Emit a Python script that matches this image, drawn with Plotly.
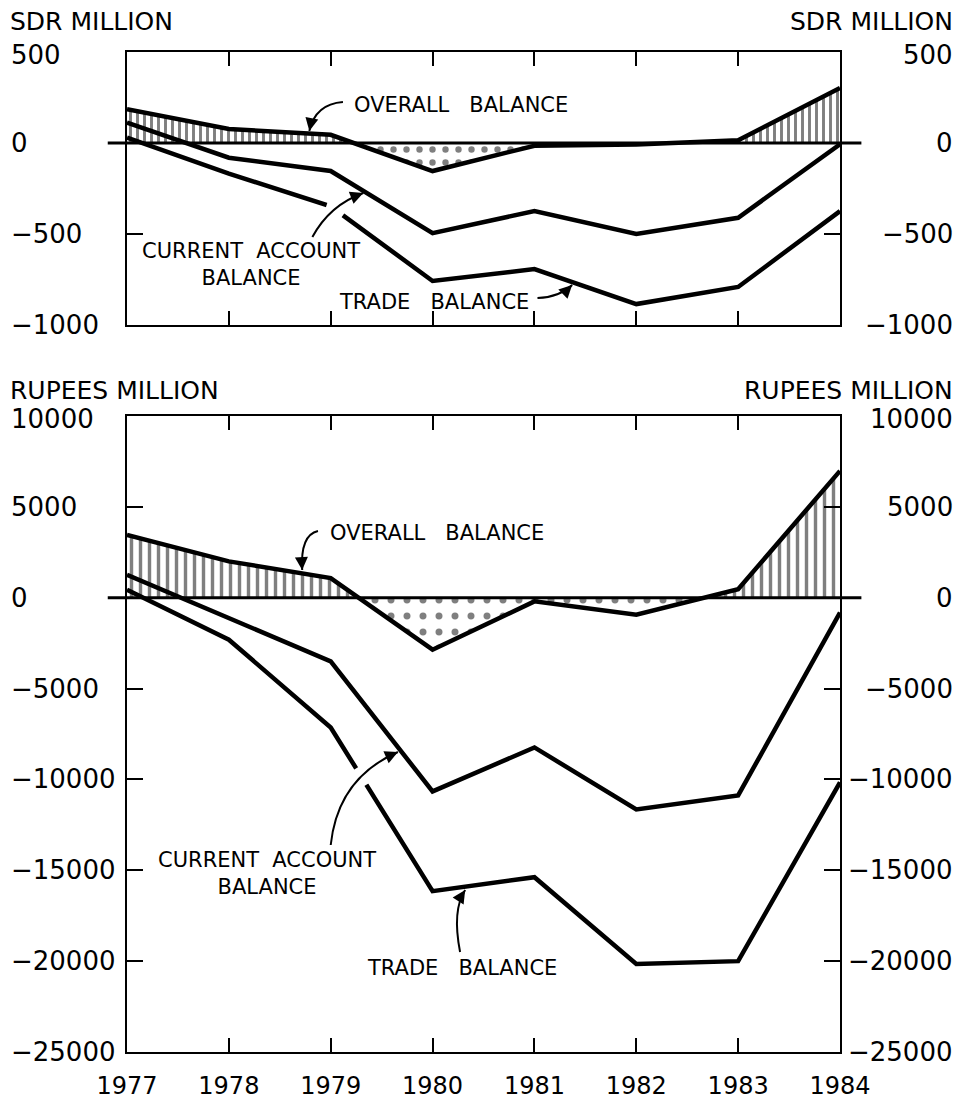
import plotly.graph_objects as go

# ---------------- data ----------------
years = [1977, 1978, 1979, 1980, 1981, 1982, 1983, 1984]
year_labels = ["1977", "1978", "1979", "1980", "1981", "1982", "1983", "1984"]

# SDR million (top panel)
sdr_overall = [185, 77, 45, -154, -15, -8, 15, 302]
sdr_current = [112, -81, -154, -495, -374, -500, -411, -7]
sdr_trade = [29, -168, -348, -758, -693, -885, -791, -374]

# Rupees million (bottom panel)
rs_overall = [3460, 2000, 1080, -2860, -200, -930, 470, 6980]
rs_current = [1260, -1100, -3500, -10660, -8240, -11650, -10880, -820]
rs_trade = [440, -2310, -7140, -16150, -15380, -20160, -20000, -10160]

sdr_ticks = [500, 0, -500, -1000]
sdr_tick_labels = ["500", "0", "\u2212500", "\u22121000"]
rs_ticks = [10000, 5000, 0, -5000, -10000, -15000, -20000, -25000]
rs_tick_labels = ["10000", "5000", "0", "\u22125000", "\u221210000",
                  "\u221215000", "\u221220000", "\u221225000"]

top_unit = "SDR MILLION"
bottom_unit = "RUPEES MILLION"
label_overall = "OVERALL\u00a0\u00a0 BALANCE"
label_current = "CURRENT\u00a0 ACCOUNT<br>BALANCE"
label_trade = "TRADE\u00a0\u00a0 BALANCE"

FONT = "DejaVu Sans"


def split_sign(xs, ys):
    """Insert zero crossings so positive/negative parts can be filled separately."""
    px, py = [xs[0]], [ys[0]]
    for i in range(1, len(xs)):
        y0, y1 = ys[i - 1], ys[i]
        if y0 * y1 < 0:
            xc = xs[i - 1] + (xs[i] - xs[i - 1]) * y0 / (y0 - y1)
            px.append(xc)
            py.append(0)
        px.append(xs[i])
        py.append(ys[i])
    pos = [max(v, 0) for v in py]
    neg = [min(v, 0) for v in py]
    return px, pos, neg


def value_at(xs, ys, x):
    for i in range(1, len(xs)):
        if xs[i - 1] <= x <= xs[i]:
            f = (x - xs[i - 1]) / (xs[i] - xs[i - 1])
            return ys[i - 1] + f * (ys[i] - ys[i - 1])
    return ys[-1]


fig = go.Figure()


def add_panel(xa, ya, overall, current, trade, hatch_size, hatch_sol,
              dot_size, dot_sol):
    px, pos, neg = split_sign(years, overall)
    fig.add_trace(go.Scatter(
        x=px, y=pos, xaxis=xa, yaxis=ya, mode="lines", fill="tozeroy",
        line=dict(width=0, color="rgba(0,0,0,0)"),
        fillpattern=dict(shape="|", size=hatch_size, solidity=hatch_sol,
                         fgcolor="black", bgcolor="white"),
        hoverinfo="skip", showlegend=False))
    fig.add_trace(go.Scatter(
        x=px, y=neg, xaxis=xa, yaxis=ya, mode="lines", fill="tozeroy",
        line=dict(width=0, color="rgba(0,0,0,0)"),
        fillpattern=dict(shape=".", size=dot_size, solidity=dot_sol,
                         fgcolor="black", bgcolor="white"),
        hoverinfo="skip", showlegend=False))
    for series in (overall, current, trade):
        fig.add_trace(go.Scatter(
            x=years, y=series, xaxis=xa, yaxis=ya, mode="lines",
            line=dict(color="black", width=4.5),
            hoverinfo="skip", showlegend=False))


add_panel("x", "y", sdr_overall, sdr_current, sdr_trade, 7, 0.42, 13, 0.19)
add_panel("x2", "y2", rs_overall, rs_current, rs_trade, 9, 0.38, 16, 0.15)

xaxis_common = dict(
    range=[1977, 1984], tickvals=years, ticks="inside", ticklen=14,
    tickwidth=2, tickcolor="black", showline=True, linewidth=2,
    linecolor="black", mirror="ticks", showgrid=False, zeroline=False,
    automargin=False,
)
yaxis_common = dict(
    ticks="inside", ticklen=16, tickwidth=2, tickcolor="black",
    showline=True, linewidth=2, linecolor="black", mirror="ticks",
    showgrid=False, zeroline=False, showticklabels=False, automargin=False,
)

fig.update_layout(
    width=969, height=1102,
    margin=dict(l=127, r=129, t=52, b=50, autoexpand=False),
    paper_bgcolor="white", plot_bgcolor="white",
    font=dict(family=FONT, color="black"),
    xaxis=dict(**xaxis_common, anchor="y", showticklabels=False),
    yaxis=dict(**yaxis_common, anchor="x", domain=[0.727, 1.0],
               range=[-1000, 500], tickvals=sdr_ticks),
    xaxis2=dict(**xaxis_common, anchor="y2", showticklabels=True,
                ticktext=year_labels, tickfont=dict(size=24, family=FONT),
                ticklabelstandoff=11),
    yaxis2=dict(**yaxis_common, anchor="x2", domain=[0.0, 0.636],
                range=[-25000, 10000], tickvals=rs_ticks),
)

# zero lines extending past the frame
for ya in ("y", "y2"):
    fig.add_shape(type="line", xref="paper", yref=ya, x0=-0.027, x1=1.03,
                  y0=0, y1=0, line=dict(color="black", width=3))

# breaks in the trade balance line where the pointer crosses it
gaps = [("x", "y", sdr_trade, [1978.96, 1979.0, 1979.12]),
        ("x2", "y2", rs_trade, [1979.25, 1979.35])]
for xa, ya, series, gx in gaps:
    pts = [(x, value_at(years, series, x)) for x in gx]
    path = "M " + " L ".join(f"{x},{y}" for x, y in pts)
    fig.add_shape(type="path", xref=xa, yref=ya, path=path,
                  line=dict(color="white", width=8))

# tick labels on both sides
LEFT_X = -0.1655
RIGHT_X = 1.161
for ya, ticks, labels in (("y", sdr_ticks, sdr_tick_labels),
                          ("y2", rs_ticks, rs_tick_labels)):
    for i, (v, t) in enumerate(zip(ticks, labels)):
        shift = -3 if i == 0 else 0
        fig.add_annotation(x=LEFT_X, y=v, xref="paper", yref=ya, text=t,
                           showarrow=False, xanchor="left", yanchor="middle",
                           yshift=shift, font=dict(size=26, family=FONT))
        fig.add_annotation(x=RIGHT_X, y=v, xref="paper", yref=ya, text=t,
                           showarrow=False, xanchor="right", yanchor="middle",
                           yshift=shift, font=dict(size=26, family=FONT))

# unit titles
for y, txt in ((1.031, top_unit), (0.661, bottom_unit)):
    fig.add_annotation(x=LEFT_X - 0.002, y=y, xref="paper", yref="paper",
                       text=txt, showarrow=False, xanchor="left",
                       yanchor="middle", font=dict(size=25, family=FONT))
    fig.add_annotation(x=RIGHT_X, y=y, xref="paper", yref="paper",
                       text=txt, showarrow=False, xanchor="right",
                       yanchor="middle", font=dict(size=25, family=FONT))

# in-chart labels
labels = [
    ("x", "y", 1979.21, 209, label_overall, "left"),
    ("x", "y", 1978.22, -665, label_current, "center"),
    ("x", "y", 1980.01, -874, label_trade, "center"),
    ("x2", "y2", 1978.97, 3561, label_overall, "left"),
    ("x2", "y2", 1978.37, -15176, label_current, "center"),
    ("x2", "y2", 1980.29, -20377, label_trade, "center"),
]
for xa, ya, x, y, txt, anc in labels:
    fig.add_annotation(x=x, y=y, xref=xa, yref=ya, text=txt, showarrow=False,
                       xanchor=anc, yanchor="middle", align="center",
                       font=dict(size=21, family=FONT))

# curved pointer arrows: (xref, yref, start, control, tip, head offset px)
arrows = [
    ("x", "y", (1979.12, 225), (1978.85, 214), (1978.79, 66), (2, -10)),
    ("x", "y", (1978.82, -517), (1978.99, -341), (1979.32, -275), (-9, 3.5)),
    ("x", "y", (1981.03, -852), (1981.25, -846), (1981.37, -780), (-7, 7)),
    ("x2", "y2", (1978.875, 3671), (1978.70, 3451), (1978.72, 1525), (-0.6, -10)),
    ("x2", "y2", (1979.00, -13608), (1979.07, -9921), (1979.66, -8490), (-9, 4)),
    ("x2", "y2", (1980.27, -19496), (1980.19, -17185), (1980.32, -16084), (-5.4, 8.4)),
]
for xa, ya, s, c, t, (hx, hy) in arrows:
    fig.add_shape(type="path", xref=xa, yref=ya,
                  path=f"M {s[0]},{s[1]} Q {c[0]},{c[1]} {t[0]},{t[1]}",
                  line=dict(color="black", width=2))
    fig.add_annotation(x=t[0], y=t[1], xref=xa, yref=ya, text="",
                       showarrow=True, arrowhead=2, arrowsize=1.3,
                       arrowwidth=2, arrowcolor="black", ax=hx, ay=hy,
                       axref="pixel", ayref="pixel")

fig.write_html(
    "out.html",
    config={"displayModeBar": False},
    post_script="document.body.style.margin='0px';"
                "document.body.style.overflow='hidden';",
)
